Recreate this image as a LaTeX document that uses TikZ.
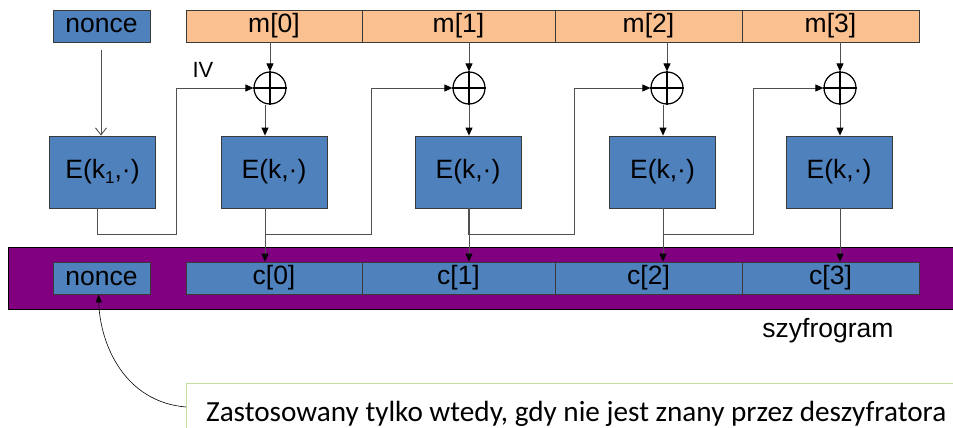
\documentclass[tikz,border=0pt]{standalone}
\usepackage{fontspec}
\setmainfont{Liberation Sans}
\newfontfamily\notefont{Carlito}
\usetikzlibrary{arrows.meta}
\definecolor{boxblue}{HTML}{4F81BD}
\definecolor{msalmon}{HTML}{FAC090}
\definecolor{band}{HTML}{800080}
\definecolor{edge}{HTML}{3A3A3A}
\definecolor{wire}{HTML}{505050}
\definecolor{notegreen}{HTML}{C6E0A4}
\begin{document}
\begin{tikzpicture}[x=1pt,y=-1pt,
  txt/.style={font=\fontsize{26.5}{30}\selectfont, text=black},
  bluebox/.style={draw=edge, fill=boxblue, line width=0.8pt, inner sep=0pt, txt},
  mseg/.style={draw=edge, fill=msalmon, line width=0.8pt, inner sep=0pt, txt, minimum height=32pt},
  cseg/.style={draw=edge, fill=boxblue, line width=0.8pt, inner sep=0pt, txt, minimum height=32pt},
  ebox/.style={bluebox, minimum width=106pt, minimum height=72pt},
  xorc/.style={circle, draw=black, line width=1.2pt, minimum size=32pt, inner sep=0pt},
  wireline/.style={draw=wire, line width=0.9pt},
  arr/.style={wireline, -{Triangle[length=8pt,width=7pt,color=black]}},
  openarr/.style={wireline, -{Straight Barb[length=7pt,width=11pt]}},
]
\useasboundingbox (0,0) rectangle (953,428);
\clip (0,0) rectangle (953,428);

% ciphertext band
\node[draw=black, fill=band, line width=0.8pt, inner sep=0pt, anchor=north west,
      minimum width=960pt, minimum height=62pt] (band) at (8,247) {};

% top row
\node[bluebox, minimum width=97pt, minimum height=32pt] (nonce) at (101.5,26) {nonce};
\node[mseg, minimum width=176pt] (m0) at (274,26) {m[0]};
\node[mseg, minimum width=193pt] (m1) at (458.5,26) {m[1]};
\node[mseg, minimum width=187pt] (m2) at (648.5,26) {m[2]};
\node[mseg, minimum width=177pt] (m3) at (830.5,26) {m[3]};

% bottom row
\node[cseg, minimum width=97pt] (nonce2) at (101.5,278) {nonce};
\node[cseg, minimum width=176pt] (c0) at (274,278) {c[0]};
\node[cseg, minimum width=193pt] (c1) at (458.5,278) {c[1]};
\node[cseg, minimum width=187pt] (c2) at (648.5,278) {c[2]};
\node[cseg, minimum width=177pt] (c3) at (830.5,278) {c[3]};

% xors
\foreach \n/\x in {x0/270,x1/469,x2/667,x3/840}{
  \node[xorc] (\n) at (\x,88) {};
  \draw[black, line width=1.2pt] (\n.north) -- (\n.south) (\n.west) -- (\n.east);
}

% encryption boxes
\node[ebox] (e0) at (102.5,172) {E(k\raisebox{-0.3ex}{\fontsize{17}{17}\selectfont 1},·)};
\node[ebox] (e1) at (274,172) {E(k,·)};
\node[ebox] (e2) at (468,172) {E(k,·)};
\node[ebox] (e3) at (662.5,172) {E(k,·)};
\node[ebox] (e4) at (839,172) {E(k,·)};

% labels
\node[font=\fontsize{22}{26}\selectfont] (iv) at (203,70) {IV};
\node[txt] (szyf) at (828,331) {szyfrogram};

% nonce -> E(k1)
\draw[openarr] ([xshift=-0.5pt,yshift=-8pt]nonce.south) -- ([xshift=-0.5pt]nonce.south |- e0.north);

% message to xor
\foreach \m/\x in {m0/x0,m1/x1,m2/x2,m3/x3}{
  \draw[arr] (\m.south -| \x) -- (\x.north);
}

% xor to E and E to c
\foreach \x/\e/\c/\dx in {x0/e1/c0/-5,x1/e2/c1/0,x2/e3/c2/-4,x3/e4/c3/0}{
  \draw[arr] ([xshift=\dx pt]\x.south) -- ([xshift=\dx pt]\x.south |- \e.north);
  \draw[arr] ([xshift=\dx pt]\x.south |- \e.south) -- ([xshift=\dx pt]\x.south |- \c.north);
}

% chaining lines
\coordinate (f0) at (176,234);
\coordinate (f1) at (371,234);
\coordinate (f2) at (574,234);
\coordinate (f3) at (753,234);
\draw[arr] ([xshift=-5.5pt]e0.south) |- (f0) -- (f0 |- x0.west) -- (x0.west);
\draw[arr] ([xshift=-9pt]e1.south) |- (f1) -- (f1 |- x1.west) -- (x1.west);
\draw[arr] (e2.south) |- (f2) -- (f2 |- x2.west) -- (x2.west);
\draw[arr] ([xshift=0.5pt]e3.south) |- (f3) -- (f3 |- x3.west) -- (x3.west);

% note
\node[draw=notegreen, line width=1.2pt, anchor=north west, inner sep=0pt,
      minimum width=800pt, minimum height=60pt] (note) at (186,383) {};
\node[font=\notefont\fontsize{29.2}{33}\selectfont, anchor=base west, inner sep=0pt] (notetext)
  at (206,421) {Zastosowany tylko wtedy, gdy nie jest znany przez deszyfratora};
\coordinate (cstart) at (186,407);
\draw[draw=black, line width=0.6pt, -{Triangle[length=8pt,width=6pt]}]
  (cstart) .. controls (125,402) and (100,345) .. ([xshift=-3pt]nonce2.south);
\end{tikzpicture}
\end{document}
